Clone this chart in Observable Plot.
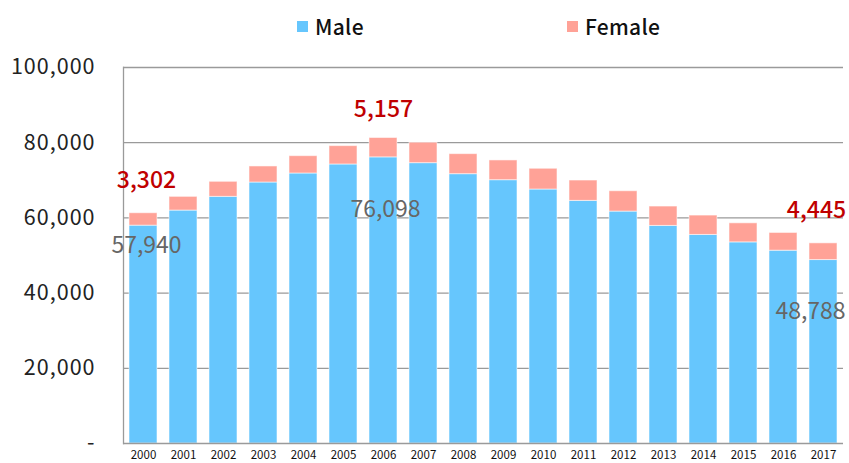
<!DOCTYPE html>
<html>
<head>
<meta charset="utf-8">
<script src="https://cdn.jsdelivr.net/npm/d3@7"></script>
<script src="https://cdn.jsdelivr.net/npm/@observablehq/plot@0.6"></script>
<style>
  body { margin: 0; background: #fff; font-family: "Noto Sans CJK JP", "Noto Sans", sans-serif; }
  #wrap { position: relative; width: 849px; height: 463px; overflow: hidden; }
  .legend { position: absolute; top: 11px; left: 0; width: 849px; height: 30px; font-size: 21px; font-weight: 500; color: #111; letter-spacing: 0.3px; }
  .legend .item { position: absolute; top: 0; display: flex; align-items: center; gap: 7px; }
  .legend .sw { width: 11px; height: 11px; display: inline-block; }
  #chart svg g[aria-label="y-axis tick label"] text { letter-spacing: 1px; }
</style>
</head>
<body>
<div id="wrap">
  <div class="legend" id="legend"></div>
  <div id="chart"></div>
</div>
<script>
const years = ["2000","2001","2002","2003","2004","2005","2006","2007","2008","2009","2010","2011","2012","2013","2014","2015","2016","2017"];
const male = [57940, 61950, 65600, 69410, 71810, 74210, 76098, 74560, 71630, 70030, 67550, 64530, 61680, 57870, 55470, 53490, 51280, 48788];
const female = [3302, 3650, 4000, 4270, 4610, 4880, 5157, 5440, 5330, 5250, 5520, 5410, 5410, 5150, 5150, 5070, 4720, 4445];
const series = ["Male", "Female"];
const colors = ["#66c6fd", "#ffa297"];
const yTicks = [0, 20000, 40000, 60000, 80000, 100000];

const rows = [];
years.forEach((yr, i) => {
  rows.push({year: yr, sex: "Male", value: male[i]});
  rows.push({year: yr, sex: "Female", value: female[i]});
});
const fmt = d3.format(",");
const idx = (y) => years.indexOf(y);

const femLab = (yr, dx, dy) => Plot.text([idx(yr)], {
  x: i => years[i], y: i => male[i] + female[i], text: i => fmt(female[i]),
  dx, dy, fill: "#c00000", fontSize: 23, fontWeight: 500, letterSpacing: 1
});
const maleLab = (yr, dx, dy) => Plot.text([idx(yr)], {
  x: i => years[i], y: i => male[i], text: i => fmt(male[i]),
  dx, dy, fill: "#666666", fontSize: 23, fontWeight: 400, letterSpacing: 1
});

const chart = Plot.plot({
  width: 849,
  height: 463,
  marginTop: 67,
  marginBottom: 20,
  marginLeft: 123,
  marginRight: 6,
  style: { fontFamily: "'Noto Sans CJK JP', 'Noto Sans', sans-serif", background: "transparent" },
  x: { domain: years, paddingInner: 0.3, paddingOuter: 0.15, label: null },
  y: { domain: [0, 100000], label: null },
  color: { domain: series, range: colors },
  marks: [
    Plot.ruleY(yTicks.filter(d => d > 0), { stroke: "#9a9a9a", strokeWidth: 1.3 }),
    Plot.barY(rows, Plot.stackY({ order: series, x: "year", y: "value", fill: "sex", stroke: "#ffffff", strokeOpacity: 0.55, strokeWidth: 1 })),
    Plot.ruleY([0], { stroke: "#9a9a9a", strokeWidth: 1.3 }),
    Plot.frame({ anchor: "left", stroke: "#9a9a9a", strokeWidth: 1.3 }),
    Plot.axisY({ ticks: yTicks, tickSize: 0, tickPadding: 28, fontSize: 21.5, fill: "#222", tickFormat: d => d === 0 ? "-" : fmt(d) }),
    Plot.axisX({ tickSize: 0, tickPadding: 7, fontSize: 11.5, fill: "#111" }),
    femLab("2000", 3, -33),
    femLab("2006", 0, -28),
    femLab("2017", -7, -33),
    maleLab("2000", 3, 20),
    maleLab("2006", 2, 52),
    maleLab("2017", -13, 52)
  ]
});
document.getElementById("chart").appendChild(chart);

const legend = document.getElementById("legend");
const lx = [297, 567];
series.forEach((s, i) => {
  const it = document.createElement("div");
  it.className = "item";
  it.style.left = lx[i] + "px";
  it.innerHTML = `<span class="sw" style="background:${colors[i]}"></span><span>${s}</span>`;
  legend.appendChild(it);
});
</script>
</body>
</html>
